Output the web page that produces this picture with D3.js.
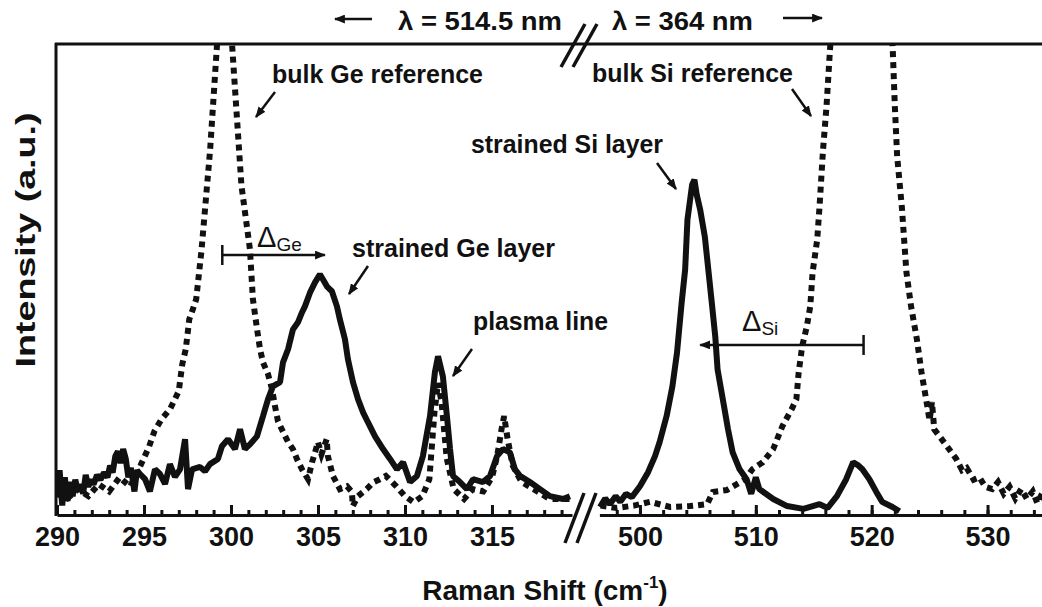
<!DOCTYPE html>
<html>
<head>
<meta charset="utf-8">
<script src="https://cdn.jsdelivr.net/npm/d3@7"></script>
<style>
  body { margin: 0; background: #fff; }
  svg { display: block; font-family: "Liberation Sans", Arial, sans-serif; }
</style>
</head>
<body>
<script>
// tick labels for the two halves of the broken axis
let leftTicks = [290, 295, 300, 305, 310, 315];
let rightTicks = [500, 510, 520, 530];

// strained Ge layer (solid), incl. plasma lines  [shift, intensity]
let geStrained = [
    [290.0, 4.5], [290.15, 9.5], [290.3, 2.0], [290.45, 8.0], [290.6, 3.0], [290.75, 7.0],
    [290.9, 4.0], [291.05, 7.5], [291.2, 5.0], [291.35, 6.5], [291.5, 4.5], [291.65, 8.5],
    [291.8, 6.0], [291.95, 7.5], [292.1, 6.5], [292.3, 8.5], [292.5, 7.5], [292.7, 9.0],
    [292.9, 8.0], [293.05, 10.5], [293.2, 9.0], [293.35, 12.5], [293.5, 13.5], [293.65, 11.0],
    [293.8, 14.0], [293.95, 12.0], [294.1, 8.0], [294.25, 10.0], [294.45, 5.0], [294.6, 9.5],
    [294.77, 8.7], [295.06, 7.6], [295.34, 5.0], [295.63, 9.7], [295.92, 8.7], [296.21, 6.6],
    [296.49, 10.8], [296.78, 8.1], [297.07, 9.7], [297.36, 16.1], [297.53, 5.5], [297.76, 9.7],
    [298.22, 10.2], [298.51, 9.3], [298.79, 10.8], [299.25, 11.9], [299.48, 14.6], [299.83, 16.1],
    [300.23, 14.0], [300.52, 18.2], [300.8, 14.0], [301.09, 15.0], [301.49, 16.7], [301.84, 21.0],
    [302.13, 24.6], [302.41, 27.3], [302.82, 28.2], [302.99, 32.4], [303.28, 35.2], [303.56, 39.4],
    [303.85, 40.9], [304.08, 43.0], [304.25, 44.3], [304.54, 47.2], [304.83, 49.4], [305.11, 51.1],
    [305.29, 50.0], [305.52, 48.5], [305.8, 47.5], [306.09, 44.3], [306.26, 41.5], [306.55, 37.3],
    [306.72, 33.1], [307.01, 28.2], [307.3, 24.6], [307.59, 21.8], [307.87, 19.7], [308.28, 16.7],
    [308.74, 14.0], [309.14, 11.9], [309.54, 9.7], [309.89, 11.2], [310.29, 7.0], [310.69, 8.3],
    [311.03, 12.5], [311.44, 21.0], [311.72, 30.3], [311.9, 33.7], [312.18, 29.4], [312.41, 21.0],
    [312.59, 14.0], [312.76, 8.3], [313.16, 7.0], [313.56, 5.5], [313.91, 7.6], [314.48, 7.0],
    [314.89, 8.3], [315.29, 12.5], [315.63, 14.0], [316.03, 13.3], [316.32, 9.7], [316.61, 8.3],
    [317.18, 7.0], [317.76, 5.5], [318.33, 4.0], [319.08, 3.4], [319.48, 4.0]
];

// bulk Ge reference (dotted)
let geBulk = [
    [290.0, 4.5], [290.6, 3.5], [291.2, 5.5], [291.8, 4.0], [292.4, 6.5], [293.0, 5.0],
    [293.6, 8.0], [294.2, 6.0], [294.8, 10.5], [295.3, 14.6], [295.6, 17.8], [296.0, 20.3],
    [296.5, 22.5], [297.0, 26.3], [297.2, 32.0], [297.4, 35.2], [297.5, 38.3], [297.6, 41.5],
    [297.8, 43.6], [298.0, 45.8], [298.3, 56.0], [298.8, 77.5], [299.2, 100], [299.6, 135],
    [299.85, 140], [300.06, 100], [300.6, 70.0], [301.09, 56.4], [301.26, 45.8], [301.5, 39.4],
    [301.67, 35.2], [301.84, 32.4], [302.13, 29.9], [302.36, 26.7], [302.53, 23.1], [302.7, 19.9],
    [303.0, 17.6], [303.28, 15.5], [303.56, 14.0], [303.79, 11.9], [304.08, 9.7], [304.43, 7.6],
    [304.66, 11.2], [304.83, 13.3], [305.0, 15.5], [305.2, 12.9], [305.5, 16.1], [305.57, 12.5],
    [305.86, 8.3], [306.26, 5.5], [306.67, 6.1], [306.95, 4.9], [307.0, 1.9], [307.3, 4.0],
    [307.8, 5.5], [308.2, 7.0], [308.56, 7.6], [308.9, 8.3], [309.5, 6.1], [310.0, 4.0],
    [310.5, 2.7], [311.0, 4.0], [311.4, 7.6], [311.7, 22.0], [311.9, 28.0], [312.1, 24.0],
    [312.4, 12.0], [312.8, 5.5], [313.4, 3.4], [313.9, 5.5], [314.5, 5.0], [315.0, 8.0],
    [315.3, 12.5], [315.55, 18.2], [315.7, 21.0], [315.9, 16.1], [316.2, 10.4], [316.7, 7.0],
    [317.4, 5.5], [318.3, 3.4], [319.5, 3.4]
];

// strained Si layer (solid)
let siStrained = [
    [496.55, 1.7], [497.0, 3.5], [497.4, 2.3], [497.9, 4.0], [498.3, 2.8], [498.8, 4.5],
    [499.3, 3.8], [500.0, 6.1], [500.7, 9.1], [501.3, 12.5], [501.7, 15.5], [502.3, 21.0],
    [502.8, 27.3], [503.2, 34.5], [503.6, 45.1], [503.9, 52.1], [504.1, 62.7], [504.5, 70.1],
    [504.7, 71.2], [504.9, 68.0], [505.2, 64.8], [505.6, 59.1], [505.9, 52.1], [506.2, 45.1],
    [506.5, 37.9], [506.7, 30.9], [507.2, 23.9], [507.6, 18.2], [508.0, 13.3], [508.6, 9.7],
    [509.2, 7.6], [509.6, 4.5], [510.0, 8.0], [510.3, 5.5], [511.5, 3.4], [512.7, 1.9],
    [514.1, 1.3], [515.5, 2.3], [516.2, 1.5], [517.0, 4.0], [517.8, 7.6], [518.4, 11.2],
    [518.8, 10.6], [519.2, 9.7], [519.8, 7.6], [520.4, 4.9], [520.9, 2.8], [521.8, 1.7],
    [522.4, 0.8]
];

// bulk Si reference (dotted)
let siBulk = [
    [496.6, 2.0], [498.0, 1.5], [499.5, 2.0], [500.86, 2.8], [502.6, 1.7], [504.3, 1.9],
    [505.8, 2.3], [506.3, 4.9], [507.5, 5.3], [508.4, 6.6], [509.1, 7.6], [509.7, 9.7],
    [510.6, 11.2], [511.5, 14.0], [512.3, 18.9], [513.1, 22.5], [513.5, 24.6], [513.7, 30.3],
    [514.0, 35.8], [514.4, 40.0], [514.7, 44.3], [514.9, 51.5], [515.3, 58.5], [515.5, 65.5],
    [515.8, 77.5], [516.1, 86.7], [516.4, 98.7], [517.5, 140], [519.0, 160], [520.8, 140],
    [521.8, 100], [522.0, 86.7], [522.2, 76.1], [522.6, 65.5], [522.8, 58.5], [523.0, 51.5],
    [523.4, 44.3], [523.9, 37.3], [524.3, 30.3], [524.8, 23.1], [525.0, 20.0], [525.2, 24.0],
    [525.4, 18.2], [526.5, 14.6], [527.3, 11.9], [527.8, 9.5], [528.2, 10.0], [528.8, 7.5],
    [529.3, 8.0], [529.8, 6.0], [530.4, 5.5], [530.9, 7.0], [531.4, 4.5], [531.9, 6.0],
    [532.4, 3.5], [532.9, 5.5], [533.4, 3.4], [533.9, 5.0], [534.3, 2.5], [534.7, 4.5]
];

function main() {
    let width = 1042;
    let height = 607;
    let font = "'Liberation Sans', Arial, sans-serif";

    let svg = d3.select("body").append("svg")
        .attr("width", width)
        .attr("height", height);

    let xLeft = d3.scaleLinear().domain([290, 319.6]).range([57, 572]);
    let xRight = d3.scaleLinear().domain([496.5, 534.7]).range([599.4, 1042]);
    let y = d3.scaleLinear().domain([0, 100]).range([515, 44]);

    let defs = svg.append("defs");
    defs.append("clipPath").attr("id", "plot")
        .append("rect")
        .attr("x", 56).attr("y", 44)
        .attr("width", 986).attr("height", 471);
    defs.append("marker")
        .attr("id", "head")
        .attr("viewBox", "0 0 10 8")
        .attr("refX", 9).attr("refY", 4)
        .attr("markerWidth", 11).attr("markerHeight", 9)
        .attr("markerUnits", "userSpaceOnUse")
        .attr("orient", "auto")
        .append("path")
        .attr("d", "M0,0L10,4L0,8Z")
        .attr("fill", "#111");

    // spectra
    let lineL = d3.line().x(d => xLeft(d[0])).y(d => y(d[1]));
    let lineR = d3.line().x(d => xRight(d[0])).y(d => y(d[1]));

    let plot = svg.append("g").attr("clip-path", "url(#plot)");

    plot.append("path").datum(geStrained)
        .attr("d", lineL)
        .attr("fill", "none").attr("stroke", "#111")
        .attr("stroke-width", 6).attr("stroke-linejoin", "bevel");
    plot.append("path").datum(siStrained)
        .attr("d", lineR)
        .attr("fill", "none").attr("stroke", "#111")
        .attr("stroke-width", 6).attr("stroke-linejoin", "bevel");

    plot.append("path").datum(geBulk)
        .attr("d", lineL)
        .attr("fill", "none").attr("stroke", "#111")
        .attr("stroke-width", 6).attr("stroke-dasharray", "6,5");
    plot.append("path").datum(siBulk)
        .attr("d", lineR)
        .attr("fill", "none").attr("stroke", "#111")
        .attr("stroke-width", 6).attr("stroke-dasharray", "6,5");

    // frame: left and top
    svg.append("line")
        .attr("x1", 56).attr("y1", 43).attr("x2", 56).attr("y2", 516)
        .attr("stroke", "#111").attr("stroke-width", 3);
    svg.append("line")
        .attr("x1", 55).attr("y1", 44).attr("x2", width).attr("y2", 44)
        .attr("stroke", "#111").attr("stroke-width", 3);

    // bottom axis, two pieces
    function bottomAxis(scale, major, minor) {
        let g = svg.append("g").attr("transform", "translate(0, 515)");
        g.append("g")
            .call(d3.axisBottom(scale).tickValues(minor).tickSize(-5).tickFormat(""))
            .select(".domain").remove();
        let a = g.append("g")
            .call(d3.axisBottom(scale).tickValues(major)
                .tickSizeInner(-10).tickSizeOuter(0).tickPadding(12));
        g.selectAll("line, path").attr("stroke", "#111").attr("stroke-width", 3);
        a.selectAll("text")
            .attr("font-family", font)
            .attr("font-size", 27)
            .attr("font-weight", "bold")
            .attr("fill", "#111");
    }
    bottomAxis(xLeft, leftTicks, d3.range(290, 320, 1));
    bottomAxis(xRight, rightTicks, d3.range(498, 535, 2));

    // break marks
    let breaks = [[561, 67, 585, 24], [573, 67, 597, 24], [565, 543, 584, 493], [577, 543, 596, 493]];
    svg.selectAll(".brk").data(breaks).enter().append("line")
        .attr("x1", d => d[0]).attr("y1", d => d[1])
        .attr("x2", d => d[2]).attr("y2", d => d[3])
        .attr("stroke", "#111").attr("stroke-width", 3.5);

    // axis titles
    let xt = svg.append("text")
        .attr("x", 545).attr("y", 600)
        .attr("text-anchor", "middle")
        .attr("font-family", font).attr("font-size", 28).attr("font-weight", "bold")
        .attr("fill", "#111");
    xt.append("tspan").text("Raman Shift (cm");
    xt.append("tspan").attr("font-size", 17).attr("dy", -12).text("-1");
    xt.append("tspan").attr("dy", 12).text(")");

    svg.append("text")
        .attr("transform", "translate(35, 240) rotate(-90)")
        .attr("text-anchor", "middle")
        .attr("font-family", font).attr("font-size", 28).attr("font-weight", "bold")
        .attr("fill", "#111")
        .attr("textLength", 255)
        .attr("lengthAdjust", "spacingAndGlyphs")
        .text("Intensity (a.u.)");

    // text helpers
    let txt = (x, yy, s, anchor, len) => {
        let t = svg.append("text")
            .attr("x", x).attr("y", yy)
            .attr("text-anchor", anchor || "start")
            .attr("font-family", font).attr("font-size", 25).attr("font-weight", "bold")
            .attr("fill", "#111")
            .text(s);
        if (len) t.attr("textLength", len).attr("lengthAdjust", "spacingAndGlyphs");
        return t;
    };
    let arrow = (x1, y1, x2, y2) => svg.append("line")
        .attr("x1", x1).attr("y1", y1).attr("x2", x2).attr("y2", y2)
        .attr("stroke", "#111").attr("stroke-width", 2.5)
        .attr("marker-end", "url(#head)");

    // laser wavelength header
    txt(398, 30, "λ = 514.5 nm", "start", 164);
    txt(612, 30, "λ = 364 nm", "start", 141);
    arrow(372, 19, 335, 19);
    arrow(783, 18, 822, 18);

    // peak annotations
    txt(272, 83, "bulk Ge reference", "start", 211);
    arrow(275, 92, 256, 117);
    txt(592, 82, "bulk Si reference", "start", 201);
    arrow(792, 89, 811, 116);
    txt(663, 153, "strained Si layer", "end", 192);
    arrow(657, 163, 676, 189);
    txt(352, 257, "strained Ge layer", "start", 203);
    arrow(368, 266, 349, 294);
    txt(473, 330, "plasma line", "start", 135);
    arrow(472, 349, 453, 376);

    // shift arrows (Δ)
    function delta(x0, x1, yv, tx, ty, sub) {
        svg.append("line")
            .attr("x1", x0).attr("y1", y(yv)).attr("x2", x1).attr("y2", y(yv))
            .attr("stroke", "#111").attr("stroke-width", 2.5)
            .attr("marker-end", "url(#head)");
        svg.append("line")
            .attr("x1", x0).attr("y1", y(yv) - 10).attr("x2", x0).attr("y2", y(yv) + 10)
            .attr("stroke", "#111").attr("stroke-width", 2.5);
        let t = svg.append("text")
            .attr("x", tx).attr("y", ty)
            .attr("font-family", font).attr("font-size", 29)
            .attr("fill", "#111");
        t.append("tspan").text("Δ");
        t.append("tspan").attr("font-size", 19).attr("dy", 4).text(sub);
    }
    delta(xLeft(299.5), xLeft(305.4), 55.2, 257, 247, "Ge");
    delta(xRight(519.3), xRight(505.2), 36.1, 742, 331, "Si");
}

main();
</script>
</body>
</html>
